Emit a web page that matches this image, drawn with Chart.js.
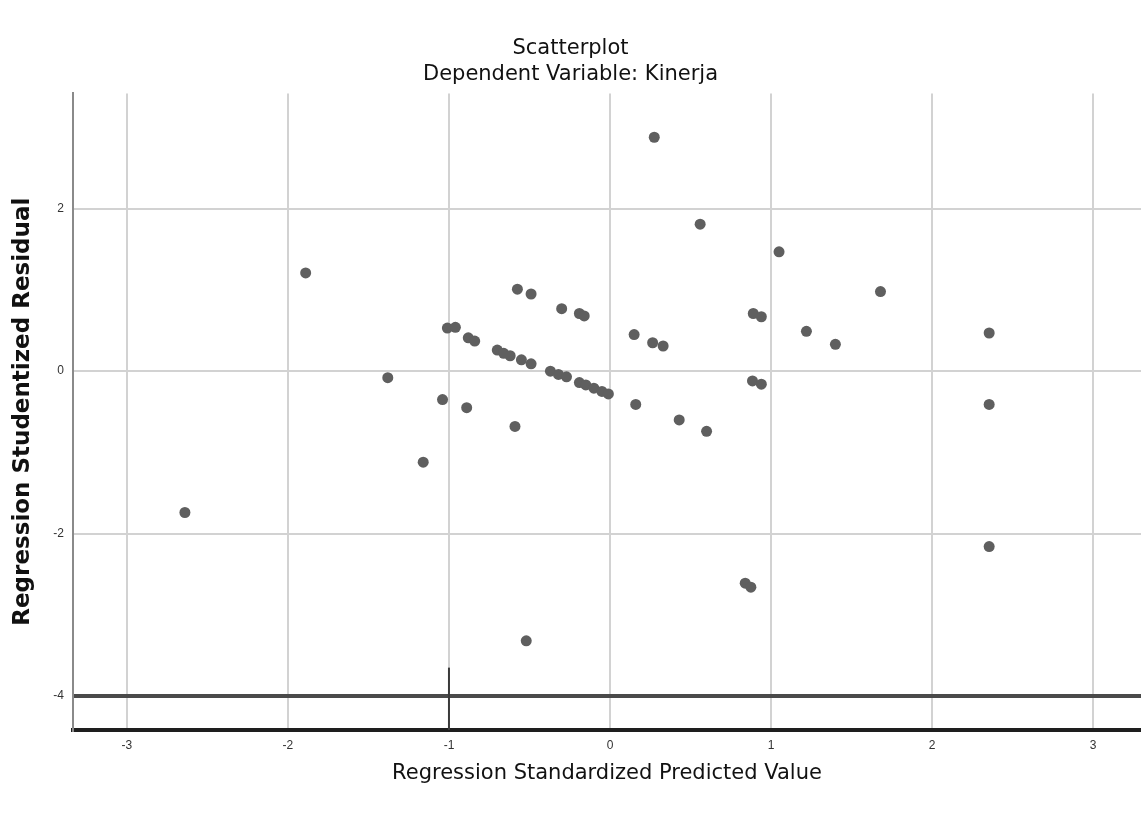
<!DOCTYPE html>
<html>
<head>
<meta charset="utf-8">
<title>Scatterplot</title>
<script src="https://cdn.jsdelivr.net/npm/chart.js@4.4.1/dist/chart.umd.min.js"></script>
<style>
  html, body { margin: 0; padding: 0; background: #fff; overflow: hidden; }
  #wrap { width: 1141px; height: 816px; position: relative; }
</style>
</head>
<body>
<div id="wrap"><canvas id="chart"></canvas></div>
<script>
// Regression Standardized Predicted Value (x) and Studentized Residual (y)
const predicted = [
  -2.64, -1.89, -1.38, -1.16, -1.04, -0.89, -1.01, -0.96, -0.88, -0.84,
  -0.70, -0.66, -0.62, -0.55, -0.49, -0.37, -0.32, -0.27, -0.19, -0.15,
  -0.10, -0.05, -0.01, -0.575, -0.49, -0.30, -0.19, -0.16, -0.59, -0.52,
  0.15, 0.265, 0.33, 0.275, 0.56, 1.05, 0.89, 0.94, 0.885, 0.94,
  0.16, 0.43, 0.60, 0.84, 0.875, 1.22, 1.40, 1.68, 2.355, 2.355, 2.355
];
const residual = [
  -1.74, 1.21, -0.08, -1.12, -0.35, -0.45, 0.53, 0.54, 0.41, 0.37,
  0.26, 0.22, 0.19, 0.14, 0.09, 0.00, -0.04, -0.07, -0.14, -0.17,
  -0.21, -0.25, -0.28, 1.01, 0.95, 0.77, 0.71, 0.68, -0.68, -3.32,
  0.45, 0.35, 0.31, 2.88, 1.81, 1.47, 0.71, 0.67, -0.12, -0.16,
  -0.41, -0.60, -0.74, -2.61, -2.66, 0.49, 0.33, 0.98, 0.47, -0.41, -2.16
];
const xTicks = [-3, -2, -1, 0, 1, 2, 3];
const yTicks = [-4, -2, 0, 2];

const points = predicted.map((v, i) => ({ x: v, y: residual[i] }));

// short dark stub on the x = -1 gridline near the bottom (as in the SPSS output)
const stubPlugin = {
  id: 'stub',
  beforeDatasetsDraw(chart) {
    const { ctx, scales: { x, y }, chartArea } = chart;
    const px = x.getPixelForValue(-1);
    ctx.save();
    ctx.strokeStyle = '#3a3a3a';
    ctx.lineWidth = 2;
    ctx.beginPath();
    ctx.moveTo(px, y.getPixelForValue(-3.65));
    ctx.lineTo(px, chartArea.bottom);
    ctx.stroke();
    ctx.restore();
  }
};

new Chart(document.getElementById('chart'), {
  type: 'scatter',
  data: {
    datasets: [{
      data: points,
      backgroundColor: '#5f5f5f',
      borderWidth: 0,
      pointRadius: 5.5,
      pointHoverRadius: 5.5
    }]
  },
  options: {
    responsive: true,
    maintainAspectRatio: false,
    animation: false,
    layout: { padding: 0, autoPadding: false },
    plugins: {
      legend: { display: false },
      tooltip: { enabled: false },
      title: {
        display: true,
        text: 'Scatterplot',
        color: '#111',
        font: { family: 'DejaVu Sans', size: 21, weight: 'normal' },
        padding: { top: 36, bottom: 0 }
      },
      subtitle: {
        display: true,
        text: 'Dependent Variable: Kinerja',
        color: '#111',
        font: { family: 'DejaVu Sans', size: 21, weight: 'normal' },
        padding: { top: 1, bottom: 6 }
      }
    },
    scales: {
      x: {
        type: 'linear',
        min: -3.335,
        max: 3.298,
        afterBuildTicks: s => { s.ticks = xTicks.map(v => ({ value: v })); },
        afterFit: s => { s.height = 86; s.paddingLeft = 0; s.paddingRight = 0; },
        grid: { color: '#d2d2d2', lineWidth: 2, drawTicks: false },
        border: { display: true, color: '#1e1e1e', width: 4 },
        ticks: {
          color: '#333',
          font: { family: 'Liberation Sans', size: 12 },
          padding: 8
        },
        title: {
          display: true,
          text: 'Regression Standardized Predicted Value',
          color: '#111',
          font: { family: 'DejaVu Sans', size: 21, weight: 'normal' },
          padding: { top: 0, bottom: 30 }
        }
      },
      y: {
        type: 'linear',
        min: -4.418,
        max: 3.42,
        afterBuildTicks: s => { s.ticks = yTicks.map(v => ({ value: v })); },
        afterFit: s => { s.width = 73; s.paddingTop = 0; s.paddingBottom = 0; },
        grid: {
          color: c => c.tick && c.tick.value === -4 ? '#4a4a4a' : '#d2d2d2',
          lineWidth: c => c.tick && c.tick.value === -4 ? 4 : 2,
          drawTicks: false
        },
        border: { display: true, color: '#8a8a8a', width: 2 },
        ticks: {
          color: '#333',
          font: { family: 'Liberation Sans', size: 12 },
          padding: 9
        },
        title: {
          display: true,
          text: 'Regression Studentized Residual',
          color: '#111',
          font: { family: 'DejaVu Sans', size: 23, weight: 'bold' },
          padding: { top: 9, bottom: 0 }
        }
      }
    }
  },
  plugins: [stubPlugin]
});
</script>
</body>
</html>
